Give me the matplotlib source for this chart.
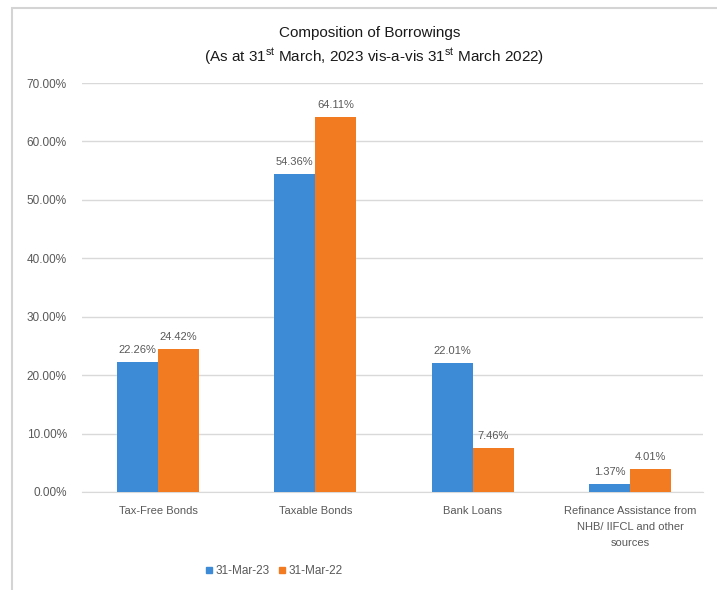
import matplotlib
matplotlib.use("Agg")
import matplotlib.pyplot as plt
from matplotlib.lines import Line2D
from matplotlib.patches import Rectangle
from matplotlib import font_manager
import numpy as np

plt.rcParams['font.family'] = ['Liberation Sans', 'DejaVu Sans']

categories = ["Tax-Free Bonds", "Taxable Bonds", "Bank Loans",
              "Refinance Assistance from\nNHB/ IIFCL and other\nsources"]
series_names = ["31-Mar-23", "31-Mar-22"]
mar23 = [22.26, 54.36, 22.01, 1.37]
mar22 = [24.42, 64.11, 7.46, 4.01]
yticks = [0, 10, 20, 30, 40, 50, 60, 70]

blue = "#3D8BD6"
orange = "#F27B22"
gray_text = "#595959"

names = {f.name for f in font_manager.fontManager.ttflist}
title_family = ['Liberation Sans Narrow', 'Liberation Sans'] if 'Liberation Sans Narrow' in names else ['Liberation Sans']
title_size = 13 if 'Liberation Sans Narrow' in names else 11

fig = plt.figure(figsize=(7.17, 5.90), dpi=100)
fig.patches.append(Rectangle((12/717, -0.1), 1.2, 1 - 8/590 + 0.1,
                             transform=fig.transFigure, fill=False,
                             edgecolor="#d4d4d4", linewidth=1.5))

ax = fig.add_axes([82/717, 1 - 492/590, 621/717, (492 - 83)/590])
x = np.arange(len(categories))
w = 0.26
b1 = ax.bar(x - w/2, mar23, w, color=blue, zorder=3)
b2 = ax.bar(x + w/2, mar22, w, color=orange, zorder=3)

for bars, vals in ((b1, mar23), (b2, mar22)):
    for r, v in zip(bars, vals):
        ax.annotate(f"{v:.2f}%", (r.get_x() + r.get_width()/2, v),
                    xytext=(0, 5), textcoords="offset points",
                    ha="center", va="bottom", fontsize=8, color=gray_text)

ax.set_xlim(-0.483, 3.464)
ax.set_ylim(0, 70)
ax.set_yticks(yticks)
ax.set_yticklabels([f"{t:.2f}%" for t in yticks], fontsize=8.5, color=gray_text)
ax.set_xticks(x)
ax.set_xticklabels(categories, fontsize=8, color=gray_text, linespacing=1.75)
ax.tick_params(axis='both', length=0)
ax.tick_params(axis='y', pad=11)
ax.tick_params(axis='x', pad=10)
ax.grid(axis='y', color="#d9d9d9", linewidth=1, zorder=0)
for s in ['top', 'right', 'left']:
    ax.spines[s].set_visible(False)
ax.spines['bottom'].set_color("#d9d9d9")

fig.text(370/717, 1 - 33/590, "Composition of Borrowings",
         ha="center", va="center", fontsize=title_size, color="#1a1a1a",
         family=title_family)
fig.text(374/717, 1 - 57/590,
         r"(As at 31$^{\mathregular{st}}$ March, 2023 vis-a-vis 31$^{\mathregular{st}}$ March 2022)",
         ha="center", va="center", fontsize=title_size, color="#1a1a1a",
         family=title_family)

handles = [Line2D([], [], marker='s', linestyle='none', color=blue, markersize=5),
           Line2D([], [], marker='s', linestyle='none', color=orange, markersize=5)]
fig.legend(handles, series_names, loc="center", bbox_to_anchor=(273/717, 1 - 571/590),
           ncol=2, frameon=False, fontsize=8.5, labelcolor=gray_text,
           handletextpad=0.05, columnspacing=0.6, handlelength=1)

fig.savefig("out.png", dpi=100, facecolor="white")
